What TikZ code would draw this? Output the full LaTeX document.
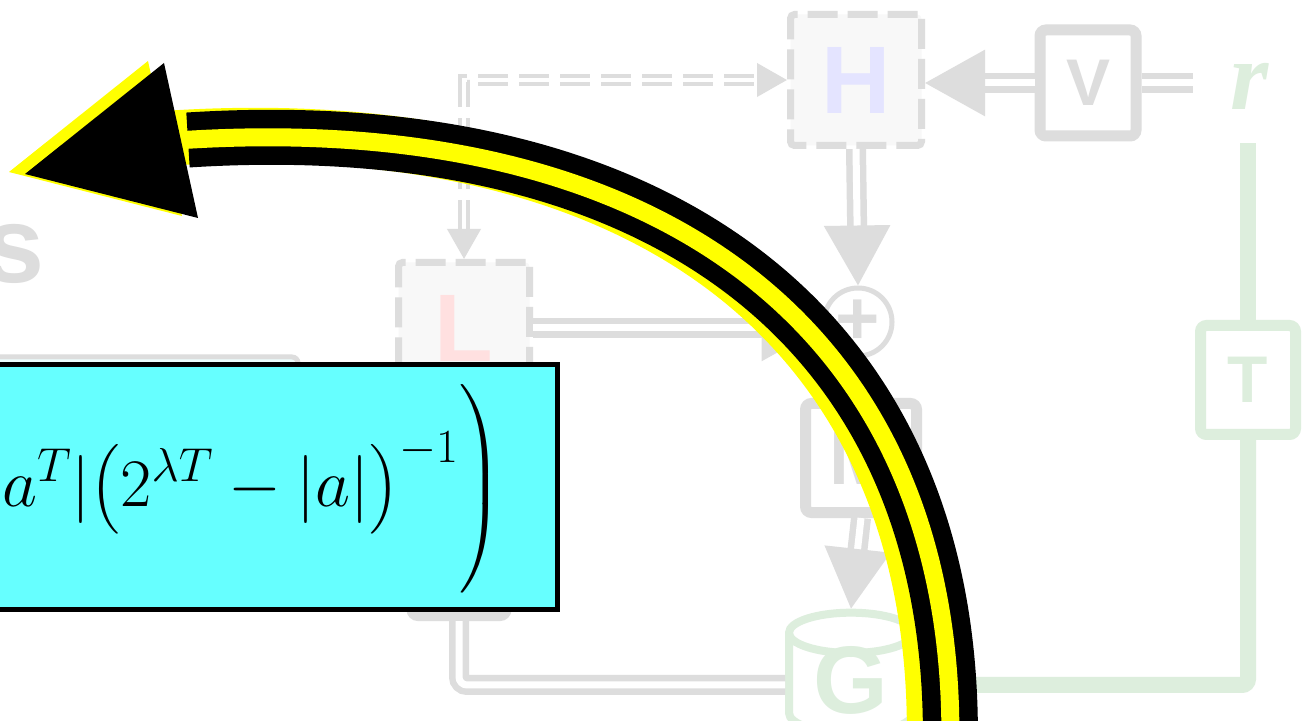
\RequirePackage{fix-cm}
\documentclass[tikz,border=0pt]{standalone}
\usepackage{amsmath}
\usepackage{fontspec}
\setmainfont{Liberation Serif}
\setsansfont{Liberation Sans}
\usepackage{xcolor}
\definecolor{cGrey}{HTML}{DDDDDD}
\definecolor{cPale}{HTML}{F8F8F8}
\definecolor{cLav}{HTML}{E4E4FF}
\definecolor{cPink}{HTML}{FFE0E0}
\definecolor{cMint}{HTML}{DDEEDD}
\definecolor{cCyan}{HTML}{66FFFF}
\definecolor{cYel}{HTML}{FFFF00}
\usepackage{tikz}
\usetikzlibrary{arrows.meta,shapes.geometric}
\newcommand\bigletter[1]{\sffamily\bfseries\fontsize{#1}{#1}\selectfont}
\tikzset{
  node-dash/.style={draw=cGrey,line width=3.5pt,dash pattern=on 15pt off 5pt,
    fill=cPale,rounded corners=2pt,minimum size=65.5pt,inner sep=0pt,font=\bigletter{48}},
  node-box/.style={draw=cGrey,line width=5.5pt,rounded corners=3pt,fill=white,
    inner sep=0pt,text=cGrey},
  node-sum/.style={draw=cGrey,line width=2.5pt,circle,minimum size=34pt,inner sep=0pt,
    text=cGrey,font=\bigletter{38}},
  node-tank/.style={draw=cMint,line width=4pt,cylinder,shape border rotate=90,aspect=0.54,
    minimum width=62pt,minimum height=40pt,inner sep=0pt,text height=28pt,text depth=0pt,
    fill=white,text=cMint,font=\bigletter{48}},
  line-dbl/.style={draw=cGrey,line width=3.25pt,double=white,double distance=3.5pt},
  arrow-dbl/.style={line-dbl,-{Triangle[length=30pt,width=32.5pt]}},
  arrow-dash/.style={draw=cGrey,line width=2pt,double=white,double distance=2pt,
    dash pattern=on 15pt off 5.5pt,{Triangle[length=15pt,width=16.5pt]}-{Triangle[length=15pt,width=16.5pt]}},
  line-mint/.style={draw=cMint,line width=8pt},
  hl-shaft/.style={line width=27.5pt},
}

\begin{document}
\begin{tikzpicture}[x=0.5pt,y=-0.5pt]
  \useasboundingbox (0,0) rectangle (1306,721);
  \fill[white] (0,0) rectangle (1306,721);
  \clip (0,0) rectangle (1306,721);

  % faded diagram in the back
  \node[anchor=base east,inner sep=0pt,text=cGrey,font=\bigletter{54}] (word) at (45,283) {s};
  \node[node-dash,text=cLav]  (hbox) at (856,80)  {H};
  \node[node-dash,text=cPink] (lbox) at (464,328) {L};
  \node[node-box,minimum width=48pt,minimum height=53pt,font=\bigletter{33}] (vbox) at (1088,83) {V};
  \node[node-box,minimum width=55.5pt,minimum height=54.5pt,font=\bigletter{38}] (mbox) at (861,458) {M};
  \node[node-box,draw=cMint,text=cMint,minimum width=47.5pt,minimum height=54.5pt,font=\bigletter{33}] (tbox) at (1248,380) {T};
  \node[node-box,fill=cGrey,minimum width=47pt,minimum height=54.5pt] (dbox) at (459,561) {};
  \node[node-sum] (sum) at (858,322) {+};
  \node[node-tank] (gcyl) at (851,685) {G};
  \node[anchor=base,inner sep=0pt,text=cMint,font=\rmfamily\bfseries\itshape\fontsize{49}{49}\selectfont] (rlab) at (1250,110) {r};

  \draw[arrow-dash] (lbox.north) |- (hbox.west);
  \draw[arrow-dbl] (hbox.south) -- (sum.north);
  \draw[arrow-dbl] (lbox.east) -- (lbox.east -| sum.west);
  \draw[arrow-dbl] (vbox.west) -- (vbox.west -| hbox.east);
  \draw[line-dbl,shorten >=19pt] (vbox.east) -- (vbox.east -| rlab.west);
  \draw[arrow-dbl] (mbox.south) -- (gcyl.north);
  \draw[line-dbl,rounded corners=4pt] (dbox.south) |- (gcyl.west);
  \draw[line-mint,shorten <=16.5pt] (rlab.south -| tbox.north) -- (tbox.north);
  \draw[line-mint,rounded corners=3pt] (tbox.south) |- (gcyl.east);

  % formula boxes
  \node[draw=cGrey,line width=2.5pt,fill=cCyan!12,rounded corners=3pt,minimum width=400pt,
    minimum height=100pt,anchor=north east] (oldbox) at (300.5,354.5) {};
  \node[draw=black,line width=2.5pt,fill=cCyan,minimum width=330pt,minimum height=122.5pt,
    anchor=east] (fbox) at (559.5,487) {};
  \node[anchor=east,inner sep=0pt,font=\fontsize{34}{41}\selectfont] (expr) at (503,489)
    {$a^T|\bigl(2^{\lambda T}-|a|\bigr)^{-1}\Biggr)$};

  % highlighted arrow
  \draw[hl-shaft,cYel,shift={(-16,-2)}] (950,760) .. controls (963,330) and (660,110) .. (188,140);
  \fill[cYel,shift={(-16,-2)}] (164,63) -- (25,174) -- (198,218) -- cycle;
  \draw[hl-shaft,black] (950,760) .. controls (963,330) and (660,110) .. (188,140);
  \draw[line width=9pt,cYel] (950,760) .. controls (963,330) and (660,110) .. (184,140);
  \fill[black] (164,63) -- (25,174) -- (198,218) -- cycle;
\end{tikzpicture}
\end{document}
